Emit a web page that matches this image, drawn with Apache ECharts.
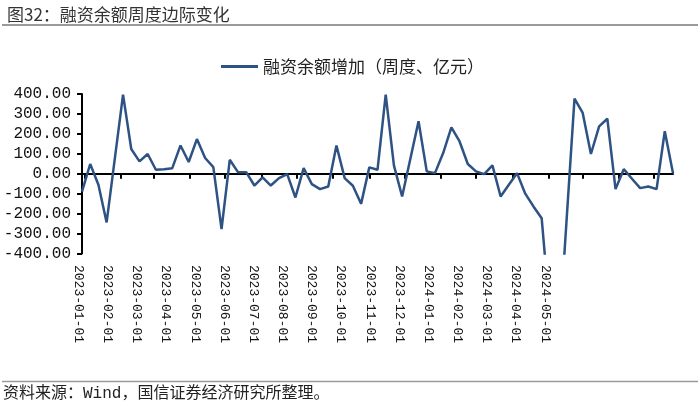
<!DOCTYPE html>
<html>
<head>
<meta charset="utf-8">
<script src="https://cdn.jsdelivr.net/npm/echarts@6/dist/echarts.min.js"></script>
<style>
html,body{margin:0;padding:0;background:#fff;}
#c{width:700px;height:418px;}
</style>
</head>
<body>
<div id="c"></div>
<script>
// Weekly dates (Fridays; holiday weeks with no trading are absent)
var dates = [
  '2022-12-30','2023-01-06','2023-01-13','2023-01-20','2023-02-03','2023-02-10','2023-02-17','2023-02-24',
  '2023-03-03','2023-03-10','2023-03-17','2023-03-24','2023-03-31','2023-04-07','2023-04-14','2023-04-21',
  '2023-04-28','2023-05-05','2023-05-12','2023-05-19','2023-05-26','2023-06-02','2023-06-09','2023-06-16',
  '2023-06-23','2023-06-30','2023-07-07','2023-07-14','2023-07-21','2023-07-28','2023-08-04','2023-08-11',
  '2023-08-18','2023-08-25','2023-09-01','2023-09-08','2023-09-15','2023-09-22','2023-09-29','2023-10-13',
  '2023-10-20','2023-10-27','2023-11-03','2023-11-10','2023-11-17','2023-11-24','2023-12-01','2023-12-08',
  '2023-12-15','2023-12-22','2023-12-29','2024-01-05','2024-01-12','2024-01-19','2024-01-26','2024-02-02',
  '2024-02-09','2024-02-23','2024-03-01','2024-03-08','2024-03-15','2024-03-22','2024-03-29','2024-04-05',
  '2024-04-12','2024-04-19','2024-04-26','2024-05-03','2024-05-10','2024-05-17'
];
// 融资余额增加（周度、亿元）
var values = [
  -90, 49, -55, -244, 397, 124, 62, 99,
  20, 23, 28, 142, 59, 174, 79, 33,
  -278, 70, 8, 8, -59, -18, -59, -22,
  -2, -119, 28, -52, -77, -64, 142, -22,
  -60, -151, 32, 20, 397, 42, -114, 263,
  12, 3, 104, 233, 162, 49, 12, -2,
  42, -114, -55, 3, -100, -164, -223, -700,
  -887, 377, 305, 99, 238, 276, -77, 23,
  -25, -72, -64, -77, 213, 3
];
var monthLabels = [
  '2023-01-01','2023-02-01','2023-03-01','2023-04-01','2023-05-01','2023-06-01','2023-07-01','2023-08-01',
  '2023-09-01','2023-10-01','2023-11-01','2023-12-01','2024-01-01','2024-02-01','2024-03-01','2024-04-01','2024-05-01'
];
var seriesName = '融资余额增加（周度、亿元）';
var titleText = '图32：融资余额周度边际变化';
var sourceText = '资料来源：Wind，国信证券经济研究所整理。';

var lineData = dates.map(function (d, i) { return [d, values[i]]; });
var monthTicks = monthLabels.map(function (m) { return +new Date(m + 'T00:00:00'); });
var mono = '"Liberation Mono","DejaVu Sans Mono",monospace';
var cjk = '"Noto Sans CJK SC","Noto Sans",sans-serif';

var chart = echarts.init(document.getElementById('c'), null, {renderer: 'canvas'});
chart.setOption({
  animation: false,
  backgroundColor: '#fff',
  title: {
    text: titleText, left: 2, top: 1,
    textStyle: {fontFamily: cjk, fontSize: 17, fontWeight: 'normal', color: '#333'}
  },
  legend: {
    data: [{name: seriesName, icon: 'rect'}],
    left: 216, top: 53,
    itemWidth: 37, itemHeight: 3, itemGap: 10,
    textStyle: {fontFamily: cjk, fontSize: 17, color: '#222'}
  },
  graphic: [
    {type: 'line', shape: {x1: 2, y1: 25, x2: 698, y2: 25}, style: {stroke: '#9a9a9a', lineWidth: 2}},
    {type: 'line', shape: {x1: 2, y1: 381.5, x2: 698, y2: 381.5}, style: {stroke: '#9a9a9a', lineWidth: 1.5}},
    {type: 'text', left: 3, top: 386, style: {text: sourceText, font: '16px "Liberation Mono","Noto Sans CJK SC"', fill: '#222'}}
  ],
  grid: [
    {left: 82, right: 27, top: 94, height: 159.5},
    {left: 78.3, width: 466.7, top: 94, height: 160}
  ],
  xAxis: [
    {
      type: 'time', gridIndex: 0,
      min: '2022-12-30', max: '2024-05-17',
      axisLine: {onZero: true, lineStyle: {color: '#000', width: 2}},
      axisTick: {show: true, length: 5, customValues: monthTicks, lineStyle: {color: '#000', width: 2}},
      axisLabel: {show: false, customValues: monthTicks},
      splitLine: {show: false},
      minorTick: {show: false}
    },
    {
      type: 'category', gridIndex: 1, data: monthLabels, boundaryGap: false,
      axisLine: {show: false}, axisTick: {show: false}, splitLine: {show: false},
      axisLabel: {show: true, interval: 0, rotate: -90, margin: 11,
        fontFamily: mono, fontSize: 13, color: '#111'}
    }
  ],
  yAxis: [
    {
      type: 'value', gridIndex: 0, min: -400, max: 400, interval: 100,
      axisLine: {show: true, lineStyle: {color: '#000', width: 2}},
      axisTick: {show: true, length: 5, lineStyle: {color: '#000', width: 2}},
      splitLine: {show: false},
      axisLabel: {margin: 11, fontFamily: mono, fontSize: 16, color: '#111',
        formatter: function (v) { return v.toFixed(2); }}
    },
    {type: 'value', gridIndex: 1, show: false, min: 0, max: 1}
  ],
  series: [{
    name: seriesName, type: 'line', xAxisIndex: 0, yAxisIndex: 0,
    data: lineData, showSymbol: false, symbol: 'none', clip: true,
    lineStyle: {color: '#2d5283', width: 2.5},
    itemStyle: {color: '#2d5283'}
  }]
});
</script>
</body>
</html>
